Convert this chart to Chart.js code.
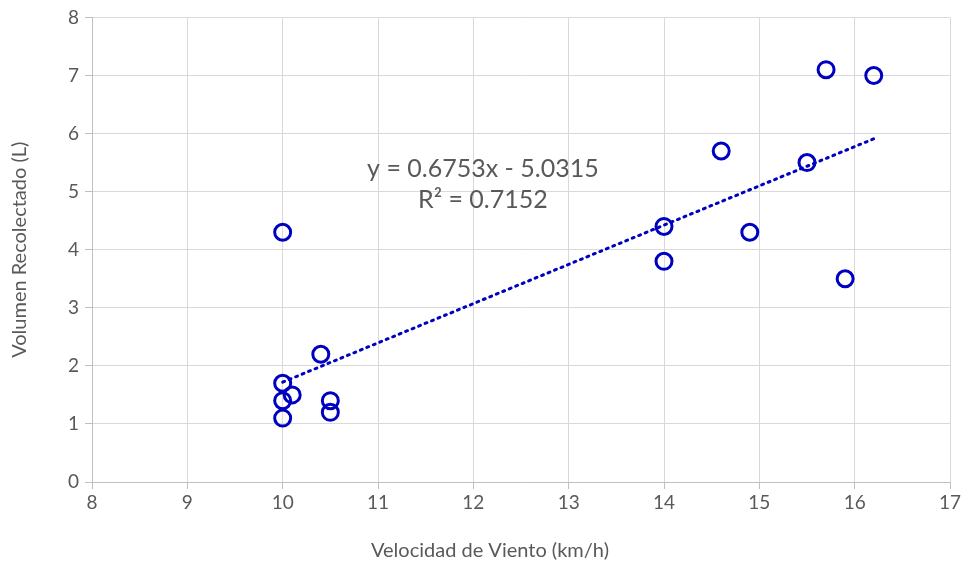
<!DOCTYPE html>
<html>
<head>
<meta charset="utf-8">
<script src="https://cdn.jsdelivr.net/npm/chart.js@4"></script>
<style>
  html, body { margin: 0; padding: 0; background: white; }
  #wrap { width: 966px; height: 566px; }
</style>
</head>
<body>
<div id="wrap"><canvas id="myChart" width="966" height="566"></canvas></div>
<script>
const velocidad = [10, 10, 10, 10, 10.1, 10.4, 10.5, 10.5, 14, 14, 14.6, 14.9, 15.5, 15.7, 15.9, 16.2]
const volumen = [4.3, 1.7, 1.4, 1.1, 1.5, 2.2, 1.4, 1.2, 4.4, 3.8, 5.7, 4.3, 5.5, 7.1, 3.5, 7.0]
const tendenciaX = [10, 16.2]
const tendenciaY = [1.72, 5.91]
const ecuacion = ["y = 0.6753x - 5.0315", "R² = 0.7152"]
const tituloX = "Velocidad de Viento (km/h)"

const azul = "#0000c0"
const gris = "#595959"
const fuente = "Lato, 'Open Sans', sans-serif"

// la ecuacion y el titulo del eje x se dibujan a mano (el titulo va centrado en el grafico, no en el area)
const textos = {
    id: "textos",
    afterDatasetsDraw(chart) {
        const ctx = chart.ctx
        const x = chart.scales.x.getPixelForValue(12.1)
        ctx.save()
        ctx.fillStyle = gris
        ctx.font = "25px " + fuente
        ctx.textAlign = "center"
        ctx.textBaseline = "middle"
        ctx.fillText(ecuacion[0], x, chart.scales.y.getPixelForValue(5.39))
        ctx.fillText(ecuacion[1], x, chart.scales.y.getPixelForValue(4.85))
        ctx.font = "20px " + fuente
        ctx.fillText(tituloX, chart.width / 2 + 7, chart.height - 15)
        ctx.restore()
    }
}

new Chart(document.querySelector("#myChart"), {
    type: "scatter",
    data: {
        datasets: [{
            data: tendenciaX.map((x, i) => ({ x: x, y: tendenciaY[i] })),
            showLine: true,
            borderColor: azul,
            borderWidth: 3,
            borderDash: [2, 5],
            borderCapStyle: "round",
            pointRadius: 0,
            order: 2
        }, {
            data: velocidad.map((x, i) => ({ x: x, y: volumen[i] })),
            pointRadius: 8,
            pointHoverRadius: 8,
            pointBorderWidth: 3,
            pointBorderColor: azul,
            pointBackgroundColor: "rgba(0,0,0,0)",
            order: 1
        }]
    },
    options: {
        responsive: false,
        animation: false,
        layout: { padding: { top: 15, right: 16, left: 0, bottom: 0 } },
        plugins: { legend: { display: false }, tooltip: { enabled: false } },
        scales: {
            x: {
                min: 8, max: 17,
                ticks: { stepSize: 1, color: gris, font: { size: 19, family: fuente }, padding: 2 },
                grid: { color: "#d9d9d9", tickColor: "#bfbfbf", tickLength: 7, lineWidth: 1 },
                border: { color: "#bfbfbf", width: 1 },
                afterFit: s => { s.height = 84 }
            },
            y: {
                min: 0, max: 8,
                ticks: { stepSize: 1, color: gris, font: { size: 19, family: fuente }, padding: 6 },
                grid: { color: "#d9d9d9", tickColor: "#bfbfbf", tickLength: 7, lineWidth: 1 },
                border: { color: "#bfbfbf", width: 1 },
                title: { display: true, text: "Volumen Recolectado (L)", color: gris, font: { size: 20, family: fuente }, padding: { top: 8, bottom: 4 } },
                afterFit: s => { s.width = 92 }
            }
        }
    },
    plugins: [textos]
});
</script>
</body>
</html>
